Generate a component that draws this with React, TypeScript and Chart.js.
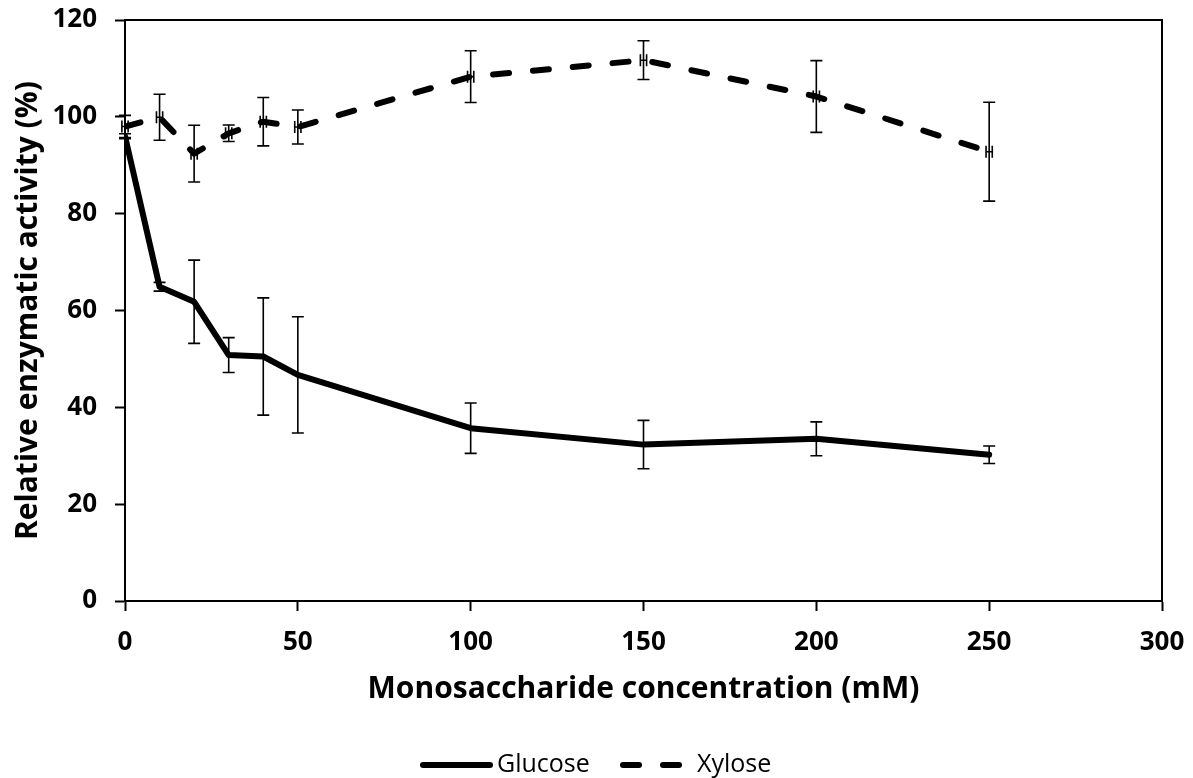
import React, { useEffect, useRef } from "react";
import { Chart, registerables } from "chart.js";

Chart.register(...registerables);

const concentrations = [0, 10, 20, 30, 40, 50, 100, 150, 200, 250];
const glucoseActivity = [96.0, 64.9, 61.8, 50.8, 50.5, 46.7, 35.7, 32.3, 33.5, 30.2];
const glucoseError = [0.5, 0.9, 8.6, 3.6, 12.1, 12.0, 5.2, 5.0, 3.5, 1.8];
const xyloseActivity = [98.0, 99.9, 92.4, 96.6, 99.0, 97.9, 108.3, 111.7, 104.2, 92.8];
const xyloseError = [2.3, 4.75, 5.85, 1.7, 5.0, 3.5, 5.35, 4.0, 7.4, 10.2];
const xyloseXError = [0.9, 0.9, 0.9, 0.9, 0.9, 0.9, 0.9, 0.9, 0.9, 0.9];
const xTicks = [0, 50, 100, 150, 200, 250, 300];
const yTicks = [0, 20, 40, 60, 80, 100, 120];
const seriesNames = ["Glucose", "Xylose"];
const xTitle = "Monosaccharide concentration (mM)";
const yTitle = "Relative enzymatic activity (%)";

const FONT = "'Open Sans', 'Segoe UI', sans-serif";

const errorBarPlugin = {
  id: "errorBars",
  afterDatasetsDraw(chart: any) {
    const { ctx } = chart;
    const xs = chart.scales.x;
    const ys = chart.scales.y;
    const yErrs = [glucoseError, xyloseError];
    const xErrs = [null, xyloseXError];
    ctx.save();
    ctx.strokeStyle = "#000";
    ctx.lineWidth = 1.6;
    ctx.lineCap = "butt";
    const cap = 6;
    chart.data.datasets.forEach((ds: any, di: number) => {
      ds.data.forEach((pt: any, i: number) => {
        const px = xs.getPixelForValue(pt.x);
        const e = yErrs[di][i];
        const top = ys.getPixelForValue(pt.y + e);
        const bot = ys.getPixelForValue(pt.y - e);
        ctx.beginPath();
        ctx.moveTo(px, top);
        ctx.lineTo(px, bot);
        ctx.moveTo(px - cap, top);
        ctx.lineTo(px + cap, top);
        ctx.moveTo(px - cap, bot);
        ctx.lineTo(px + cap, bot);
        ctx.stroke();
        const xe = xErrs[di];
        if (xe) {
          const py = ys.getPixelForValue(pt.y);
          const l = xs.getPixelForValue(pt.x - xe[i]);
          const r = xs.getPixelForValue(pt.x + xe[i]);
          ctx.beginPath();
          ctx.moveTo(l, py);
          ctx.lineTo(r, py);
          ctx.moveTo(l, py - cap);
          ctx.lineTo(l, py + cap);
          ctx.moveTo(r, py - cap);
          ctx.lineTo(r, py + cap);
          ctx.stroke();
        }
      });
    });
    ctx.restore();
  },
};

const framePlugin = {
  id: "frame",
  afterDraw(chart: any) {
    const { ctx, chartArea } = chart;
    ctx.save();
    ctx.strokeStyle = "#000";
    ctx.lineWidth = 2;
    ctx.beginPath();
    ctx.moveTo(chartArea.left, chartArea.top);
    ctx.lineTo(chartArea.right, chartArea.top);
    ctx.lineTo(chartArea.right, chartArea.bottom);
    ctx.stroke();
    ctx.restore();
  },
};

const legendPlugin = {
  id: "customLegend",
  afterDraw(chart: any) {
    const { ctx } = chart;
    const y = 765;
    ctx.save();
    ctx.font = `25px ${FONT}`;
    ctx.fillStyle = "#000";
    ctx.textBaseline = "middle";
    ctx.strokeStyle = "#000";
    ctx.lineWidth = 6;
    ctx.lineCap = "round";
    const items = [
      { x0: 423, x1: 490, dash: [] as number[], tx: 497, label: chart.data.datasets[0].label },
      { x0: 623, x1: 679, dash: [16, 24], tx: 697, label: chart.data.datasets[1].label },
    ];
    items.forEach((it) => {
      ctx.setLineDash(it.dash);
      ctx.beginPath();
      ctx.moveTo(it.x0, y);
      ctx.lineTo(it.x1, y);
      ctx.stroke();
      ctx.setLineDash([]);
      ctx.fillText(it.label, it.tx, y);
    });
    ctx.restore();
  },
};

export default function App() {
  const canvasRef = useRef<HTMLCanvasElement | null>(null);

  useEffect(() => {
    const canvas = canvasRef.current;
    if (!canvas) return;
    const chart = new Chart(canvas, {
      type: "line",
      data: {
        datasets: [
          {
            label: seriesNames[0],
            data: concentrations.map((c, i) => ({ x: c, y: glucoseActivity[i] })),
            borderColor: "#000",
            borderWidth: 6,
            pointRadius: 0,
            borderJoinStyle: "round",
            borderCapStyle: "round",
            tension: 0,
          },
          {
            label: seriesNames[1],
            data: concentrations.map((c, i) => ({ x: c, y: xyloseActivity[i] })),
            borderColor: "#000",
            borderWidth: 6,
            borderDash: [16, 24],
            borderCapStyle: "round",
            borderJoinStyle: "round",
            pointRadius: 0,
            tension: 0,
          },
        ],
      },
      options: {
        animation: false,
        responsive: false,
        devicePixelRatio: 1,
        layout: { padding: { top: 20, right: 31, left: 0, bottom: 0 } },
        plugins: {
          legend: { display: false },
          tooltip: { enabled: false },
        },
        scales: {
          x: {
            type: "linear",
            min: 0,
            max: 300,
            afterFit: (s: any) => {
              s.height = 177;
              s.paddingLeft = 0;
              s.paddingRight = 0;
            },
            afterBuildTicks: (s: any) => {
              s.ticks = xTicks.map((v) => ({ value: v }));
            },
            ticks: {
              color: "#000",
              font: { family: FONT, size: 26, weight: "bold" },
              padding: 16,
              maxRotation: 0,
            },
            grid: {
              drawOnChartArea: false,
              drawTicks: true,
              tickLength: 10,
              tickColor: "#000",
              tickWidth: 2,
            },
            border: { display: true, color: "#000", width: 2 },
            title: {
              display: true,
              text: xTitle,
              color: "#000",
              font: { family: FONT, size: 30, weight: "bold" },
              padding: { top: 0, bottom: 71 },
            },
          },
          y: {
            type: "linear",
            min: 0,
            max: 120,
            afterFit: (s: any) => {
              s.width = 125;
              s.paddingTop = 0;
              s.paddingBottom = 0;
            },
            afterBuildTicks: (s: any) => {
              s.ticks = yTicks.map((v) => ({ value: v }));
            },
            ticks: {
              color: "#000",
              font: { family: FONT, size: 26, weight: "bold" },
              padding: 18,
            },
            grid: {
              drawOnChartArea: false,
              drawTicks: true,
              tickLength: 10,
              tickColor: "#000",
              tickWidth: 2,
            },
            border: { display: true, color: "#000", width: 2 },
            title: {
              display: true,
              text: yTitle,
              color: "#000",
              font: { family: FONT, size: 30, weight: "bold" },
              padding: { top: 10, bottom: 0 },
            },
          },
        },
      },
      plugins: [errorBarPlugin, framePlugin, legendPlugin],
    });
    return () => chart.destroy();
  }, []);

  return (
    <div style={{ position: "absolute", left: 0, top: 0, width: 1193, height: 778 }}>
      <canvas ref={canvasRef} width={1193} height={778} style={{ display: "block" }} />
    </div>
  );
}
